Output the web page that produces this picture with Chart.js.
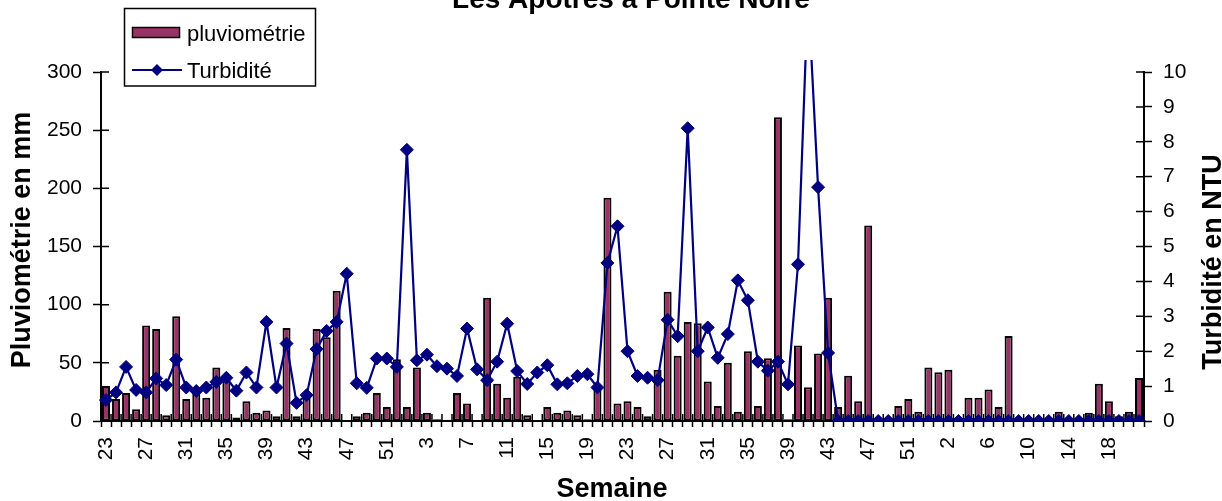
<!DOCTYPE html>
<html lang="fr">
<head>
<meta charset="utf-8">
<title>Les Apôtres à Pointe Noire</title>
<script src="https://cdn.jsdelivr.net/npm/chart.js@4.4.1/dist/chart.umd.min.js"></script>
<style>
  html, body { margin: 0; padding: 0; background: #fff; }
  #wrap { width: 1222px; height: 501px; }
</style>
</head>
<body>
<div id="wrap"><canvas id="chart" width="1222" height="501"></canvas></div>
<script>
// ---------- DATA ----------

const TITRE = 'Les Apôtres à Pointe Noire';

// semaines S23 -> S52, puis S1 -> S53, puis S1 -> S21
const semaines = [
  23, 24, 25, 26, 27, 28, 29, 30, 31, 32, 33, 34, 35, 36, 37, 38, 39, 40, 41, 42,
  43, 44, 45, 46, 47, 48, 49, 50, 51, 52,
  1, 2, 3, 4, 5, 6, 7, 8, 9, 10, 11, 12, 13, 14, 15, 16, 17, 18, 19, 20,
  21, 22, 23, 24, 25, 26, 27, 28, 29, 30, 31, 32, 33, 34, 35, 36, 37, 38, 39, 40,
  41, 42, 43, 44, 45, 46, 47, 48, 49, 50, 51, 52, 53,
  1, 2, 3, 4, 5, 6, 7, 8, 9, 10, 11, 12, 13, 14, 15, 16, 17, 18, 19, 20, 21
];

// pluie hebdomadaire (mm)
const pluviometrie = [
  30, 19, 24, 10, 82, 79, 5, 90, 19, 24,
  20, 46, 37, 3, 17, 7, 9, 4, 80, 4,
  20, 79, 72, 112, 0, 4, 7, 24, 12, 53,
  12, 46, 7, 1.5, 1, 24, 15, 0, 106, 32,
  20, 38, 5, 0, 12, 7, 9, 5, 1.5, 30,
  192, 15, 17, 12, 4, 44, 111, 56, 85, 84,
  34, 13, 50, 8, 60, 13, 54, 261, 1.5, 65,
  29, 58, 106, 12, 39, 17, 168, 0, 0, 13,
  19, 8, 46, 42, 44, 0, 20, 20, 27, 12,
  73, 0, 0, 0, 0, 8, 0, 0, 7, 32,
  17, 4, 8, 37
];

// turbidité (NTU)
const turbidite = [
  0.6, 0.82, 1.55, 0.89, 0.82, 1.22, 1.03, 1.76, 0.96, 0.86,
  0.96, 1.12, 1.24, 0.87, 1.39, 0.96, 2.84, 0.96, 2.22, 0.52,
  0.74, 2.06, 2.58, 2.84, 4.22, 1.08, 0.95, 1.79, 1.79, 1.55,
  7.77, 1.74, 1.9, 1.57, 1.5, 1.29, 2.65, 1.48, 1.17, 1.7,
  2.79, 1.43, 1.06, 1.39, 1.6, 1.05, 1.08, 1.29, 1.34, 0.96,
  4.53, 5.58, 2.0, 1.29, 1.24, 1.17, 2.9, 2.43, 8.39, 2.0,
  2.68, 1.81, 2.49, 4.03, 3.46, 1.7, 1.44, 1.7, 1.05, 4.49,
  12.3, 6.7, 1.95, 0, 0, 0, 0, 0, 0, 0,
  0, 0, 0, 0, 0, 0, 0, 0, 0, 0,
  0, 0, 0, 0, 0, 0, 0, 0, 0, 0,
  0, 0, 0, 0
];

// ---------- STYLE ----------

const FONT = "'Liberation Sans', Arial, Helvetica, sans-serif";
const PRUNE = '#993366';
const MARINE = '#000080';

// petits traits de graduation côté intérieur du cadre
const crossTicks = {
  id: 'crossTicks',
  beforeDatasetsDraw(chart) {
    const { ctx, chartArea: a, scales } = chart;
    ctx.save();
    ctx.strokeStyle = '#000';
    ctx.lineWidth = 1.5;
    ctx.beginPath();
    scales.y.ticks.forEach(t => {
      const y = scales.y.getPixelForValue(t.value);
      ctx.moveTo(a.left, y);
      ctx.lineTo(a.left + 8, y);
    });
    scales.y1.ticks.forEach(t => {
      const y = scales.y1.getPixelForValue(t.value);
      ctx.moveTo(a.right - 8, y);
      ctx.lineTo(a.right, y);
    });
    for (let i = 0; i <= semaines.length; i++) {
      const x = scales.x.getPixelForValue(i - 0.5);
      ctx.moveTo(x, a.bottom - 7);
      ctx.lineTo(x, a.bottom);
    }
    ctx.stroke();
    ctx.restore();
  }
};

function texteVertical(ctx, txt, x, y) {
  ctx.save();
  ctx.translate(x, y);
  ctx.rotate(-Math.PI / 2);
  ctx.textAlign = 'center';
  ctx.textBaseline = 'alphabetic';
  ctx.fillText(txt, 0, 0);
  ctx.restore();
}

function losange(ctx, x, y, r) {
  ctx.beginPath();
  ctx.moveTo(x - r, y);
  ctx.lineTo(x, y - r);
  ctx.lineTo(x + r, y);
  ctx.lineTo(x, y + r);
  ctx.closePath();
  ctx.fill();
}

// titre, titres d'axes et légende encadrée
const habillage = {
  id: 'habillage',
  afterDraw(chart) {
    const { ctx } = chart;
    const [pluie, turb] = chart.data.datasets;
    ctx.save();
    ctx.fillStyle = '#000';

    ctx.font = `bold 28px ${FONT}`;
    ctx.textAlign = 'center';
    ctx.textBaseline = 'alphabetic';
    ctx.fillText(TITRE, 631, 8);

    ctx.font = `bold 27px ${FONT}`;
    ctx.fillText('Semaine', 612, 497);
    texteVertical(ctx, 'Pluviométrie en mm', 30, 240);
    texteVertical(ctx, 'Turbidité en NTU', 1221, 262);

    // légende
    ctx.fillStyle = '#fff';
    ctx.fillRect(124.5, 8.5, 191, 77.5);
    ctx.strokeStyle = '#000';
    ctx.lineWidth = 1.5;
    ctx.strokeRect(124.5, 8.5, 191, 77.5);

    ctx.fillStyle = pluie.backgroundColor;
    ctx.fillRect(132.5, 27.5, 47, 10);
    ctx.strokeRect(132.5, 27.5, 47, 10);

    ctx.strokeStyle = turb.borderColor;
    ctx.lineWidth = 2;
    ctx.beginPath();
    ctx.moveTo(132, 70);
    ctx.lineTo(182, 70);
    ctx.stroke();
    ctx.fillStyle = turb.borderColor;
    losange(ctx, 157, 70, 6);

    ctx.fillStyle = '#000';
    ctx.font = `22px ${FONT}`;
    ctx.textAlign = 'left';
    ctx.fillText(pluie.label, 187, 41);
    ctx.fillText(turb.label, 187, 78);
    ctx.restore();
  }
};

// ---------- CHART ----------

const tickFont = { family: FONT, size: 21 };

new Chart(document.getElementById('chart'), {
  type: 'bar',
  data: {
    labels: semaines,
    datasets: [
      {
        type: 'bar',
        label: 'pluviométrie',
        data: pluviometrie,
        yAxisID: 'y',
        order: 1,
        backgroundColor: PRUNE,
        borderColor: '#000',
        borderWidth: 2,
        borderSkipped: false,
        barPercentage: 0.8,
        categoryPercentage: 1
      },
      {
        type: 'line',
        label: 'Turbidité',
        data: turbidite,
        yAxisID: 'y1',
        order: 0,
        borderColor: MARINE,
        backgroundColor: MARINE,
        borderWidth: 2.2,
        tension: 0,
        pointStyle: 'rectRot',
        pointRadius: 6.5,
        pointBorderWidth: 1,
        pointBackgroundColor: MARINE,
        pointBorderColor: MARINE,
        clip: { left: 7, top: 12, right: 7, bottom: 0 }
      }
    ]
  },
  options: {
    responsive: false,
    animation: false,
    devicePixelRatio: 1,
    layout: { padding: { top: 72, left: 0, right: 0, bottom: 0 } },
    plugins: {
      legend: { display: false },
      title: { display: false },
      tooltip: { enabled: false }
    },
    scales: {
      x: {
        grid: { drawOnChartArea: false, offset: true, tickLength: 6, tickWidth: 1.5, tickColor: '#000' },
        border: { color: '#000', width: 2 },
        ticks: {
          autoSkip: false,
          minRotation: 90,
          maxRotation: 90,
          padding: 10,
          color: '#000',
          font: tickFont,
          callback: (v, i) => (i % 4 === 0 ? String(semaines[i]) : '')
        },
        afterFit: s => { s.height = 80; }
      },
      y: {
        position: 'left',
        min: 0,
        max: 300,
        ticks: { stepSize: 50, padding: 11, color: '#000', font: tickFont },
        grid: { drawOnChartArea: false, tickLength: 8, tickWidth: 1.5, tickColor: '#000' },
        border: { color: '#000', width: 2 },
        afterFit: s => { s.width = 101; }
      },
      y1: {
        position: 'right',
        min: 0,
        max: 10,
        ticks: { stepSize: 1, padding: 11, color: '#000', font: tickFont },
        grid: { drawOnChartArea: false, tickLength: 8, tickWidth: 1.5, tickColor: '#000' },
        border: { color: '#000', width: 2 },
        afterFit: s => { s.width = 78; }
      }
    }
  },
  plugins: [crossTicks, habillage]
});
</script>
</body>
</html>
